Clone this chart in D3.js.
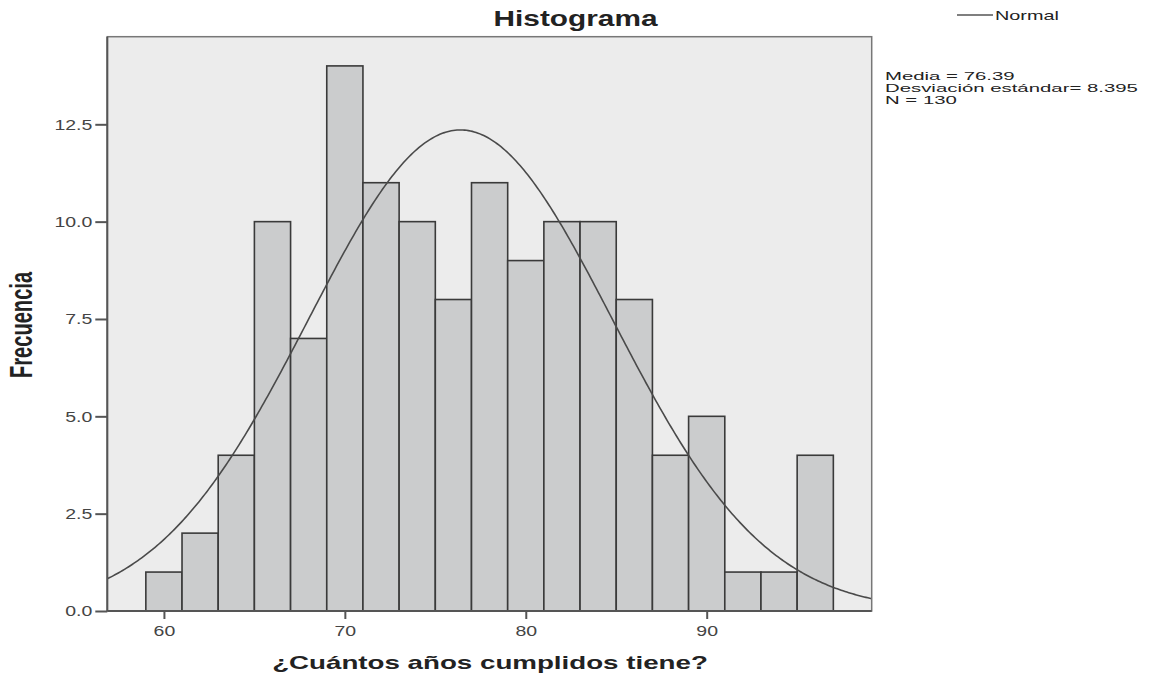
<!DOCTYPE html>
<html><head><meta charset="utf-8">
<script src="https://cdn.jsdelivr.net/npm/d3@7"></script>
<style>body{margin:0;background:#fff}text{font-family:"Liberation Sans",Arial,sans-serif}</style>
</head><body><svg id="c" width="1152" height="676"></svg>
<script>
const binStarts = [59,61,63,65,67,69,71,73,75,77,79,81,83,85,87,89,91,93,95];
const counts = [1,2,4,10,7,14,11,10,8,11,9,10,10,8,4,5,1,1,4];
const binWidth = 2;
const xTicks = [60,70,80,90];
const yTicks = [0,2.5,5,7.5,10,12.5];
const mean = 76.39, sd = 8.395, n = 130;
const statLines = ["Media = 76.39","Desviación estándar= 8.395","N = 130"];

const svg = d3.select("#c");
const L=107.3,R=871.7,T=36.7,B=611;
const x = d3.scaleLinear().domain([56.87,99.12]).range([L,R]);
const y = d3.scaleLinear().domain([0,14.75]).range([B,T]);

// horizontal stretch helper: scale a text about its anchor x so its width matches target
function stretch(sel, sx){
  sel.each(function(){
    const t=d3.select(this);
    const ax=+t.attr("x")||0;
    const prev=t.attr("transform")||"";
    t.attr("transform",`${prev} translate(${ax},0) scale(${sx},1) translate(${-ax},0)`);
  });
}
function fit(sel, w){
  const bw=sel.node().getBBox().width;
  stretch(sel, w/bw);
}

svg.append("rect").attr("x",L).attr("y",T).attr("width",R-L).attr("height",B-T).attr("fill","#ececec");

svg.selectAll(".bar").data(counts).join("rect")
  .attr("x",(d,i)=>x(binStarts[i])).attr("width",(d,i)=>x(binStarts[i]+binWidth)-x(binStarts[i]))
  .attr("y",d=>y(d)).attr("height",d=>B-y(d))
  .attr("fill","#cbcccd").attr("stroke","#3a3a3a").attr("stroke-width",1.6);

const pdf = v => n*binWidth/(sd*Math.sqrt(2*Math.PI))*Math.exp(-0.5*((v-mean)/sd)**2);
const xs = d3.range(0,401).map(i=>56.87+(99.12-56.87)*i/400);
svg.append("path").datum(xs).attr("fill","none").attr("stroke","#4a4a4a").attr("stroke-width",1.6)
  .attr("d",d3.line().x(v=>x(v)).y(v=>y(pdf(v))));

// frame
svg.append("rect").attr("x",L).attr("y",T).attr("width",R-L).attr("height",B-T).attr("fill","none").attr("stroke","#777").attr("stroke-width",1.5);
svg.append("line").attr("x1",L).attr("x2",L).attr("y1",T).attr("y2",B).attr("stroke","#555").attr("stroke-width",2);
svg.append("line").attr("x1",L).attr("x2",R).attr("y1",B).attr("y2",B).attr("stroke","#555").attr("stroke-width",2);

const xa = svg.append("g").attr("transform",`translate(0,${B})`)
  .call(d3.axisBottom(x).tickValues(xTicks).tickSize(8).tickPadding(6).tickFormat(d3.format("d")));
xa.select(".domain").remove();
xa.selectAll("line").attr("stroke","#555").attr("stroke-width",2);
xa.selectAll("text").attr("font-size",15).attr("fill","#444").attr("font-family","Liberation Sans, Arial, sans-serif");
stretch(xa.selectAll("text"),1.3);

const ya = svg.append("g").attr("transform",`translate(${L},0)`)
  .call(d3.axisLeft(y).tickValues(yTicks).tickSize(12).tickPadding(3).tickFormat(d3.format(".1f")));
ya.select(".domain").remove();
ya.selectAll("line").attr("stroke","#555").attr("stroke-width",2);
ya.selectAll("text").attr("font-size",15).attr("fill","#444").attr("font-family","Liberation Sans, Arial, sans-serif");
stretch(ya.selectAll("text"),1.3);

const title = svg.append("text").attr("x",575.5).attr("y",26.5).attr("text-anchor","middle").attr("font-size",22).attr("font-weight","bold").attr("fill","#222").text("Histograma");
fit(title,165);
const xl = svg.append("text").attr("x",490).attr("y",669).attr("text-anchor","middle").attr("font-size",19).attr("font-weight","bold").attr("fill","#222").text("¿Cuántos años cumplidos tiene?");
fit(xl,436);
const yl = svg.append("text").attr("x",0).attr("y",0).attr("text-anchor","middle").attr("font-size",22).attr("font-weight","bold").attr("fill","#222").text("Frecuencia");
const ylw = yl.node().getBBox().width;
yl.attr("transform",`translate(31.5,325) rotate(-90) scale(${107/ylw},1.45)`);

svg.append("line").attr("x1",957).attr("x2",993).attr("y1",15).attr("y2",15).attr("stroke","#555").attr("stroke-width",1.5);
const nt = svg.append("text").attr("x",995).attr("y",20.5).attr("font-size",12.5).attr("fill","#222").text("Normal");
fit(nt,64);
const st = svg.selectAll(".st").data(statLines).join("text").attr("x",885).attr("y",(d,i)=>80+i*12.2).attr("font-size",11).attr("fill","#222").text(d=>d);
const stw = st.filter((d,i)=>i===1).node().getBBox().width;
stretch(st, 253/stw);
</script></body></html>
